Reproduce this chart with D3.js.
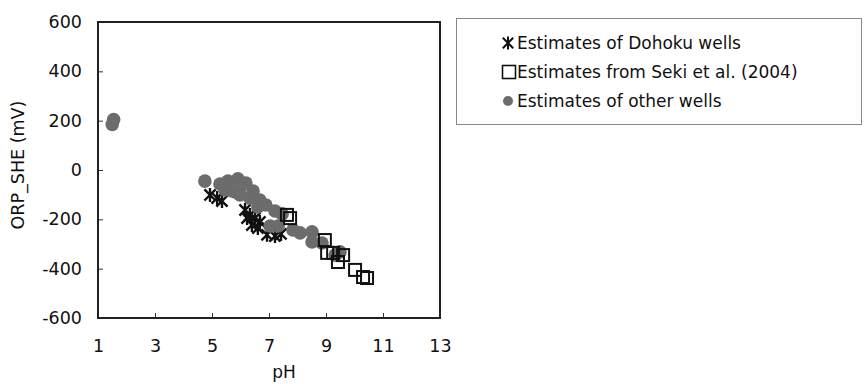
<!DOCTYPE html>
<html><head><meta charset="utf-8">
<script src="https://cdn.jsdelivr.net/npm/d3@7"></script>
<style>body{margin:0;background:#fff;} svg{display:block;}</style>
</head><body>
<svg id="c" width="867" height="384"></svg>
<script>
const xTicks = [1, 3, 5, 7, 9, 11, 13];
const yTicks = [-600, -400, -200, 0, 200, 400, 600];
const legendLabels = ["Estimates of Dohoku wells", "Estimates from Seki et al. (2004)", "Estimates of other wells"];

const dohokuPH  = [4.93, 5.18, 5.35, 5.91, 6.16, 6.33, 6.51, 6.68, 6.40, 6.23, 6.61, 6.93, 7.21, 7.42];
const dohokuORP = [-101, -114, -126, -89, -162, -182, -195, -211, -223, -195, -235, -263, -268, -259];

const sekiPH  = [7.63, 7.74, 8.96, 9.04, 9.25, 9.42, 9.60, 10.02, 10.30, 10.44];
const sekiORP = [-182, -195, -284, -336, -336, -373, -345, -405, -434, -438];

const otherPH  = [1.55, 1.5, 4.75, 5.28, 5.56, 5.91, 6.19, 5.70, 6.44, 5.98, 5.46, 5.98, 6.33, 6.68, 6.61, 6.89, 7.21, 7.46, 7.04, 7.32, 7.84, 8.09, 8.51, 8.51, 8.86, 9.49, 9.32];
const otherORP = [205, 185, -45, -57, -45, -36, -53, -85, -85, -73, -81, -101, -114, -122, -150, -142, -166, -178, -227, -227, -243, -255, -251, -292, -296, -332, -345];

const svg = d3.select("#c");
const font = "'DejaVu Sans', sans-serif";
const x = d3.scaleLinear().domain([1, 13]).range([98, 440]);
const y = d3.scaleLinear().domain([-600, 600]).range([318, 22]);

// axes (ticks inside)
const xAxis = d3.axisBottom(x).tickValues(xTicks).tickSize(-5).tickPadding(22).tickFormat(d3.format("d"));
const yAxis = d3.axisLeft(y).tickValues(yTicks).tickSize(-5).tickPadding(16).tickFormat(d3.format("d"));
const gx = svg.append("g").attr("transform", `translate(0,${y(-600)})`).call(xAxis);
const gy = svg.append("g").attr("transform", `translate(${x(1)},0)`).call(yAxis);
[gx, gy].forEach(g => {
  g.select(".domain").remove();
  g.selectAll(".tick line").attr("stroke", "#333").attr("stroke-width", 1);
  g.selectAll(".tick text").attr("font-family", font).attr("font-size", 17.5).attr("fill", "#111");
});
gy.selectAll(".tick text").text(d => d < 0 ? "-" + Math.abs(d) : d);

// frame
svg.append("rect").attr("x", x(1)).attr("y", y(600)).attr("width", x(13) - x(1)).attr("height", y(-600) - y(600))
  .attr("fill", "none").attr("stroke", "#222").attr("stroke-width", 2);

// axis titles
svg.append("text").attr("x", 284).attr("y", 378).attr("text-anchor", "middle")
  .attr("font-family", font).attr("font-size", 17).attr("fill", "#111").text("pH");
svg.append("text").attr("transform", `translate(24,165) rotate(-90)`).attr("text-anchor", "middle")
  .attr("font-family", font).attr("font-size", 17.5).attr("fill", "#111").text("ORP_SHE (mV)");

const plot = svg.append("g");

function star(g, cx, cy, r, w) {
  const k = r * 0.8;
  const p = `M${cx},${cy - r}L${cx},${cy + r}M${cx - k},${cy - k}L${cx + k},${cy + k}M${cx - k},${cy + k}L${cx + k},${cy - k}`;
  g.append("path").attr("d", p).attr("stroke", "#111").attr("stroke-width", w).attr("fill", "none");
}

// Dohoku asterisks (drawn first, circles overlap them)
dohokuPH.forEach((p, i) => star(plot, x(p), y(dohokuORP[i]), 7, 2.4));

// gray circles (other wells)
plot.selectAll("circle.o").data(otherPH.map((p, i) => [p, otherORP[i]])).join("circle")
  .attr("cx", d => x(d[0])).attr("cy", d => y(d[1])).attr("r", 6.8).attr("fill", "#6c6c6c");

// Seki squares
plot.selectAll("rect.s").data(sekiPH.map((p, i) => [p, sekiORP[i]])).join("rect")
  .attr("x", d => x(d[0]) - 6).attr("y", d => y(d[1]) - 6).attr("width", 12).attr("height", 12)
  .attr("fill", "none").attr("stroke", "#111").attr("stroke-width", 2);

// legend
const lg = svg.append("g");
lg.append("rect").attr("x", 456.5).attr("y", 18.5).attr("width", 405).attr("height", 106)
  .attr("fill", "#fff").attr("stroke", "#888").attr("stroke-width", 1);
const rows = [43, 72, 101];
star(lg, 508, rows[0], 6.5, 2);
lg.append("rect").attr("x", 502.5).attr("y", rows[1] - 6.5).attr("width", 13).attr("height", 13)
  .attr("fill", "none").attr("stroke", "#111").attr("stroke-width", 1.6);
lg.append("circle").attr("cx", 508).attr("cy", rows[2]).attr("r", 5).attr("fill", "#6c6c6c");
legendLabels.forEach((t, i) => {
  lg.append("text").attr("x", 517).attr("y", rows[i]).attr("dy", "0.36em")
    .attr("font-family", font).attr("font-size", 17).attr("fill", "#111").text(t);
});
</script>
</body></html>
